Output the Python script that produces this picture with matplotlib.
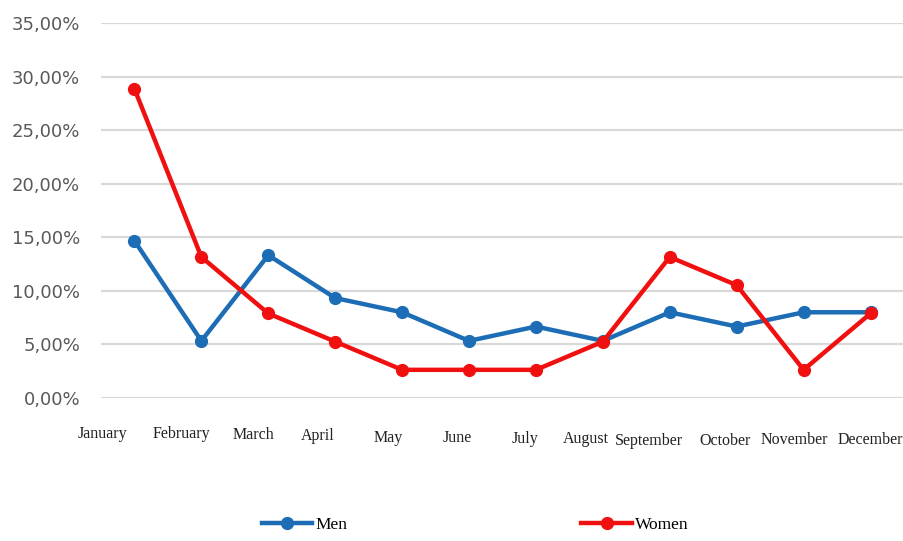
import matplotlib.pyplot as plt
import matplotlib.transforms as mtransforms
from matplotlib.ticker import FuncFormatter
import numpy as np


months = ["January", "February", "March", "April", "May", "June",
          "July", "August", "September", "October", "November", "December"]
men = [14.67, 5.33, 13.33, 9.33, 8.00, 5.33, 6.67, 5.33, 8.00, 6.67, 8.00, 8.00]
women = [28.85, 13.16, 7.89, 5.26, 2.63, 2.63, 2.63, 5.26, 13.16, 10.53, 2.63, 7.89]

# small nudges (px) for the month labels, which sit a bit off the category centres
label_dx = [-32, -20, -15, -17, -14, -12, -11, -17, -21, -12, -9, 0]
label_dy = [0, 0, -1, -2, -4, -4, -5, -5, -7, -7, -6, -6]

BLUE = "#1c6db5"
RED = "#f01010"

fig = plt.figure(figsize=(9.04, 5.41), dpi=100)
ax = fig.add_axes([101 / 904, 1 - 398 / 541, 1 - 101 / 904, (398 - 23) / 541])

x = np.arange(len(months))
l_men, = ax.plot(x, men, color=BLUE, lw=3.2, marker="o", ms=8.5, label="Men",
                 solid_joinstyle="round", zorder=3)
l_women, = ax.plot(x, women, color=RED, lw=3.2, marker="o", ms=8.5, label="Women",
                   solid_joinstyle="round", zorder=3)

ax.set_xlim(-0.5, 11.5)
ax.set_ylim(0, 35)
ax.set_yticks(np.arange(0, 36, 5))
ax.yaxis.set_major_formatter(FuncFormatter(lambda v, p: f"{v:.2f}%".replace(".", ",")))
ax.grid(axis="y", color="#d9d9d9", lw=1.6, zorder=0)
ax.set_axisbelow(True)
for s in ax.spines.values():
    s.set_visible(False)

ax.tick_params(axis="y", length=0, pad=15, labelsize=13, labelcolor="#595959")
ax.tick_params(axis="x", length=0, pad=20)
ax.set_xticks(x)
ax.set_xticklabels(months, fontfamily="Liberation Serif", fontsize=11.5, color="#222222")
for lab, dx, dy in zip(ax.get_xticklabels(), label_dx, label_dy):
    lab.set_transform(lab.get_transform() +
                      mtransforms.ScaledTranslation(dx / 100, dy / 100, fig.dpi_scale_trans))

fig.legend(handles=[l_men, l_women], labels=["Men", "Women"], loc="center left",
           bbox_to_anchor=(262 / 904, 1 - 525 / 541), ncol=2, frameon=False,
           borderpad=0, borderaxespad=0, handlelength=2.9, handletextpad=0.2,
           columnspacing=13.45, numpoints=1,
           prop={"family": "Liberation Serif", "size": 12.5})

fig.savefig("out.png", dpi=100)
